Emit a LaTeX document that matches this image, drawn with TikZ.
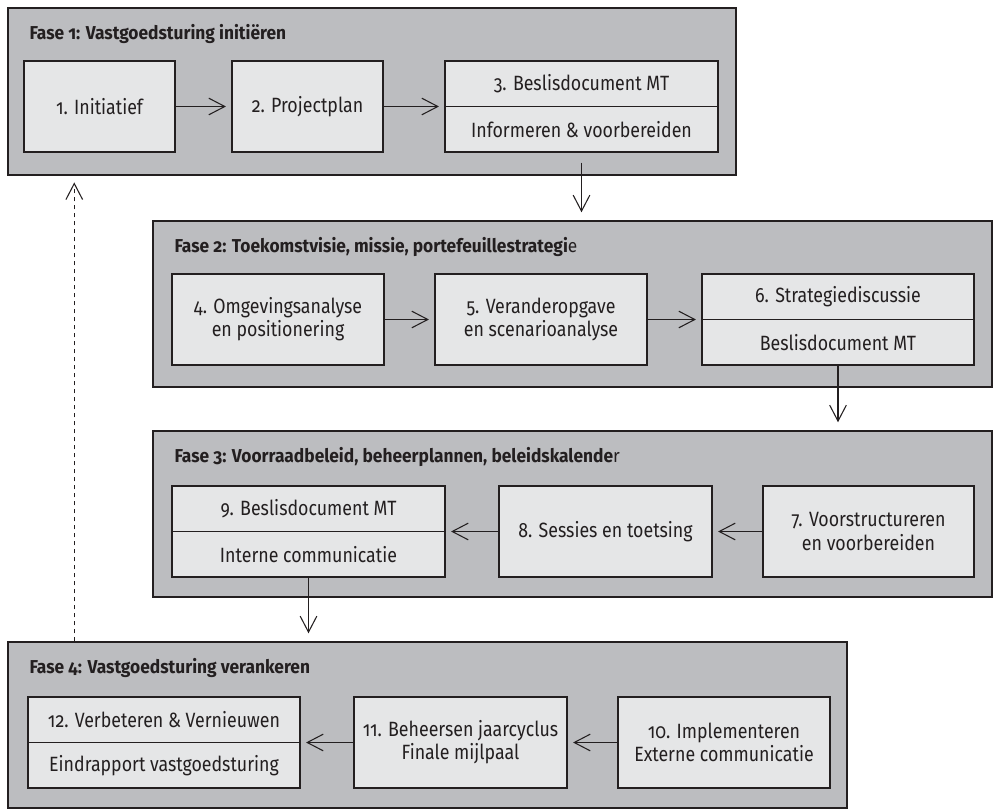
\documentclass[tikz,border=0pt]{standalone}
\usepackage{fontspec}
\setmainfont{Fira Sans}[Numbers=OldStyle,FakeStretch=0.86]
\newfontfamily\titlefont{Fira Sans}[Numbers=OldStyle,FakeStretch=0.93]
\usetikzlibrary{arrows.meta}
\definecolor{phasefill}{HTML}{BCBDC0}
\definecolor{boxfill}{HTML}{E5E6E7}
\definecolor{ink}{HTML}{231F20}
\tikzset{
  sz/.style 2 args={minimum width=#1*0.75pt, minimum height=#2*0.75pt},
  phase/.style={draw=ink, fill=phasefill, line width=1.1pt, inner sep=0pt},
  stepbox/.style={draw=ink, fill=boxfill, line width=1.1pt, inner sep=0pt,
    align=center, font=\fontsize{15.5pt}{17.25pt}\selectfont, text=ink},
  lbl/.style={inner sep=0pt, align=center, font=\fontsize{15.5pt}{17.25pt}\selectfont, text=ink},
  phtitle/.style={inner sep=0pt, anchor=base west, text=ink,
    font=\titlefont\fontsize{14pt}{16pt}\selectfont},
  arr/.style={draw=ink, line width=0.8pt,
    -{Straight Barb[length=12pt, width=12.5pt, line width=0.8pt]}},
  gap/.style={shorten >=4pt},
}
\begin{document}
\begin{tikzpicture}[x=0.75pt, y=-0.75pt]
\useasboundingbox (0,0) rectangle (995,809);

% Fase 1
\node[phase, sz={728}{167}] (ph1) at (372,91.5) {};
\node[phtitle] (t1) at ([xshift=16.5pt,yshift=-24pt]ph1.north west)
  {\bfseries Fase 1: Vastgoedsturing initiëren};
\node[stepbox, sz={151}{91}] (b1) at (99.5,106.5) {1. Initiatief};
\node[stepbox, sz={151}{91}] (b2) at (307.5,106.5) {2. Projectplan};
\node[stepbox, sz={273}{91}] (b3) at (581.5,106.5) {};
\node[lbl] (b3t) at ([yshift=17pt]b3.center) {3. Beslisdocument MT};
\node[lbl] (b3b) at ([yshift=-17pt]b3.center) {Informeren \& voorbereiden};
\draw[ink, line width=1.1pt] (b3.west) -- (b3.east);

% Fase 2
\node[phase, sz={839}{166}] (ph2) at (572.5,304) {};
\node[phtitle] (t2) at ([xshift=16.5pt,yshift=-24pt]ph2.north west)
  {\bfseries Fase 2: Toekomstvisie, missie, portefeuillestrategi\mdseries e};
\node[stepbox, sz={212}{91}] (b4) at (278,319.5) {4. Omgevingsanalyse\\en positionering};
\node[stepbox, sz={212}{91}] (b5) at (541,319.5) {5. Veranderopgave\\en scenarioanalyse};
\node[stepbox, sz={272}{91}] (b6) at (838,319.5) {};
\node[lbl] (b6t) at ([yshift=17pt]b6.center) {6. Strategiediscussie};
\node[lbl] (b6b) at ([yshift=-17pt]b6.center) {Beslisdocument MT};
\draw[ink, line width=1.1pt] (b6.west) -- (b6.east);

% Fase 3
\node[phase, sz={839}{166}] (ph3) at (572.5,514) {};
\node[phtitle] (t3) at ([xshift=16.5pt,yshift=-24pt]ph3.north west)
  {\bfseries Fase 3: Voorraadbeleid, beheerplannen, beleidskalende\mdseries r};
\node[stepbox, sz={273}{91}] (b9) at (308.5,531.5) {};
\node[lbl] (b9t) at ([yshift=17pt]b9.center) {9. Beslisdocument MT};
\node[lbl] (b9b) at ([yshift=-17pt]b9.center) {Interne communicatie};
\draw[ink, line width=1.1pt] (b9.west) -- (b9.east);
\node[stepbox, sz={213}{91}] (b8) at (605.5,531.5) {8. Sessies en toetsing};
\node[stepbox, sz={211}{91}] (b7) at (868.5,531.5) {7. Voorstructureren\\en voorbereiden};

% Fase 4
\node[phase, sz={839}{166}] (ph4) at (427.5,725) {};
\node[phtitle] (t4) at ([xshift=16.5pt,yshift=-24pt]ph4.north west)
  {\bfseries Fase 4: Vastgoedsturing verankeren};
\node[stepbox, sz={272}{91}] (b12) at (164,742.5) {};
\node[lbl] (b12t) at ([yshift=17pt]b12.center) {12. Verbeteren \& Vernieuwen};
\node[lbl] (b12b) at ([yshift=-17pt]b12.center) {Eindrapport vastgoedsturing};
\draw[ink, line width=1.1pt] (b12.west) -- (b12.east);
\node[stepbox, sz={213}{91}] (b11) at (460.5,742.5) {11. Beheersen jaarcyclus\\Finale mijlpaal};
\node[stepbox, sz={212}{91}] (b10) at (724,742.5) {10. Implementeren\\Externe communicatie};

% Connectors within the phases
\draw[arr, gap] (b1) -- (b2);
\draw[arr, gap] (b2) -- (b3);
\draw[arr, gap] (b4) -- (b5);
\draw[arr, gap] (b5) -- (b6);
\draw[arr, gap] (b7) -- (b8);
\draw[arr, gap] (b8) -- (b9);
\draw[arr, gap] (b10) -- (b11);
\draw[arr, gap] (b11) -- (b12);

% Connectors between the phases
\draw[arr, shorten >=6pt] ([yshift=-7.5pt]b3.south) -- (b3.south |- ph2.north);
\draw[arr, shorten >=6pt] (b6.south) -- (b6.south |- ph3.north);
\draw[arr, shorten >=6pt] (b9.south) -- (b9.south |- ph4.north);

% Feedback from Fase 4 back to Fase 1
\coordinate (fb4) at ([xshift=50.25pt]ph4.north west);
\coordinate (fb1) at ([xshift=50.25pt]ph1.south west);
\draw[arr, dash pattern=on 3.5pt off 2.5pt, shorten >=5pt] (fb4) -- (fb1);
\end{tikzpicture}
\end{document}
